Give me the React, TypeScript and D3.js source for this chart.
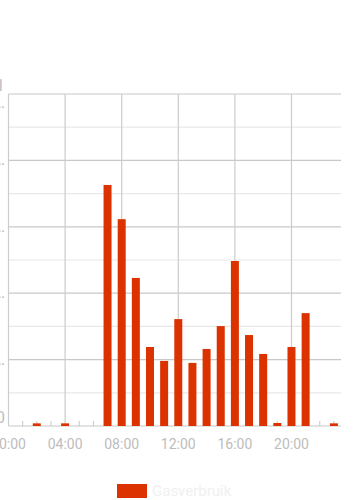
import React from "react";
import * as d3 from "d3";

// Hourly gas usage
const hours = [0, 1, 2, 3, 4, 5, 6, 7, 8, 9, 10, 11, 12, 13, 14, 15, 16, 17, 18, 19, 20, 21, 22, 23];
const usage = [0, 0, 0.005, 0, 0.005, 0, 0, 0.726, 0.623, 0.446, 0.238, 0.196, 0.322, 0.19, 0.232, 0.301, 0.497, 0.274, 0.217, 0.006, 0.238, 0.34, 0, 0.005];
const xTickHours = [0, 4, 8, 12, 16, 20];
const xTickLabels = ["00:00", "04:00", "08:00", "12:00", "16:00", "20:00"];
const majorTicks = [0, 0.2, 0.4, 0.6, 0.8, 1];
const minorTicks = [0.1, 0.3, 0.5, 0.7, 0.9];
const yLabels = ["0", "0,2…", "0,4…", "0,6…", "0,8…", "1"];
const seriesName = "Gasverbruik";

const W = 353;
const H = 500;
const RED = "#dc3200";

export default function App() {
  const x = d3.scaleLinear().domain([0, 23.5]).range([8.5, 341]);
  const y = d3.scaleLinear().domain([0, 1]).range([426, 94]);
  const barW = 8;

  return (
    <svg
      width={W}
      height={H}
      style={{ position: "absolute", left: 0, top: 0, fontFamily: "Roboto, sans-serif" }}
    >
      <rect width={W} height={H} fill="#fff" />
      {/* minor horizontal grid */}
      {minorTicks.map((v) => (
        <line key={"mi" + v} x1={x(0)} x2={x(23.5)} y1={y(v)} y2={y(v)} stroke="#e8e8e8" strokeWidth={1.2} />
      ))}
      {/* major horizontal grid */}
      {majorTicks.map((v) => (
        <line key={"ma" + v} x1={x(0)} x2={x(23.5)} y1={y(v)} y2={y(v)} stroke="#c8c8c8" strokeWidth={1.2} />
      ))}
      {/* vertical grid every four hours */}
      {xTickHours.map((h) => (
        <line key={"vg" + h} x1={x(h)} x2={x(h)} y1={y(1)} y2={y(0)} stroke="#cccccc" strokeWidth={1.2} />
      ))}
      {/* hourly ticks */}
      {hours.filter((h) => h % 4 !== 0).map((h) => (
        <line key={"t" + h} x1={x(h)} x2={x(h)} y1={y(0) - 5} y2={y(0)} stroke="#c8c8c8" strokeWidth={1} />
      ))}
      {/* bars */}
      {hours.map((h, i) =>
        usage[i] > 0 ? (
          <rect
            key={"b" + h}
            x={x(h) - barW / 2}
            y={y(usage[i]) - (usage[i] < 0.02 ? 1 : 0)}
            width={barW}
            height={y(0) - y(usage[i]) + (usage[i] < 0.02 ? 1 : 0)}
            fill={RED}
          />
        ) : null
      )}
      {/* y labels */}
      {majorTicks.map((v, i) => {
        const isEnd = i === 0 || i === majorTicks.length - 1;
        return (
          <text
            key={"yl" + v}
            x={5}
            y={isEnd ? y(v) - 9 : y(v) + 5}
            dy={isEnd ? "0.35em" : 0}
            textAnchor="end"
            fontSize={17}
            fill="#c0c0c0"
          >
            {yLabels[i]}
          </text>
        );
      })}
      <text x={5} y={y(1) + 14} textAnchor="end" fontSize={17} fill="#c0c0c0">
        …
      </text>
      {/* x labels */}
      {xTickHours.map((h, i) => (
        <text key={"xl" + h} x={x(h)} y={449} textAnchor="middle" fontSize={14} fill="#bdbdbd">
          {xTickLabels[i]}
        </text>
      ))}
      {/* legend */}
      <rect x={117} y={484} width={30} height={14} fill={RED} />
      <text x={152} y={496} fontSize={15} fill="#f0f0f0">
        {seriesName}
      </text>
    </svg>
  );
}
